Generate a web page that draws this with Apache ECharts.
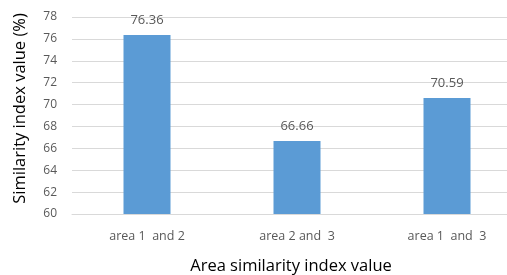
<!DOCTYPE html>
<html>
<head>
<meta charset="utf-8">
<script src="https://cdn.jsdelivr.net/npm/echarts@6/dist/echarts.min.js"></script>
<style>
  html, body { margin: 0; padding: 0; background: #fff; }
  #chart { width: 507px; height: 275px; }
</style>
</head>
<body>
<div id="chart"></div>
<script>
const categories = ['area 1  and 2', 'area 2 and  3', 'area 1  and  3']
const similarity = [76.36, 66.66, 70.59]
const yMin = 60
const yMax = 78
const yStep = 2

const chart = echarts.init(document.getElementById('chart'), null, { renderer: 'canvas' })
chart.setOption({
  animation: false,
  textStyle: { fontFamily: '"Open Sans", sans-serif' },
  grid: { left: 72, top: 17, width: 450, bottom: 61, containLabel: false, outerBoundsMode: 'none' },
  xAxis: {
    type: 'category',
    data: categories,
    name: 'Area similarity index value',
    nameLocation: 'middle',
    nameGap: 44,
    nameTextStyle: { color: '#000', fontSize: 16.5, padding: [0, 12, 0, 0] },
    axisLine: { lineStyle: { color: '#d9d9d9' } },
    axisTick: { show: false },
    axisLabel: { color: '#595959', fontSize: 12.5, margin: 16 },
  },
  yAxis: {
    type: 'value',
    min: yMin,
    max: yMax,
    interval: yStep,
    name: 'Similarity index value (%)',
    nameLocation: 'middle',
    nameGap: 43,
    nameTextStyle: { color: '#000', fontSize: 16.5, padding: [0, 0, 0, 14] },
    axisLine: { show: false },
    axisTick: { show: false },
    axisLabel: { color: '#595959', fontSize: 12, margin: 15 },
    splitLine: { lineStyle: { color: '#d9d9d9' } },
  },
  series: [
    {
      type: 'bar',
      data: similarity,
      barWidth: 47,
      itemStyle: { color: '#5b9bd5' },
      label: {
        show: true,
        position: 'top',
        distance: 8,
        color: '#595959',
        fontSize: 13,
        formatter: (p) => p.value.toFixed(2),
      },
    },
  ],
})
</script>
</body>
</html>
